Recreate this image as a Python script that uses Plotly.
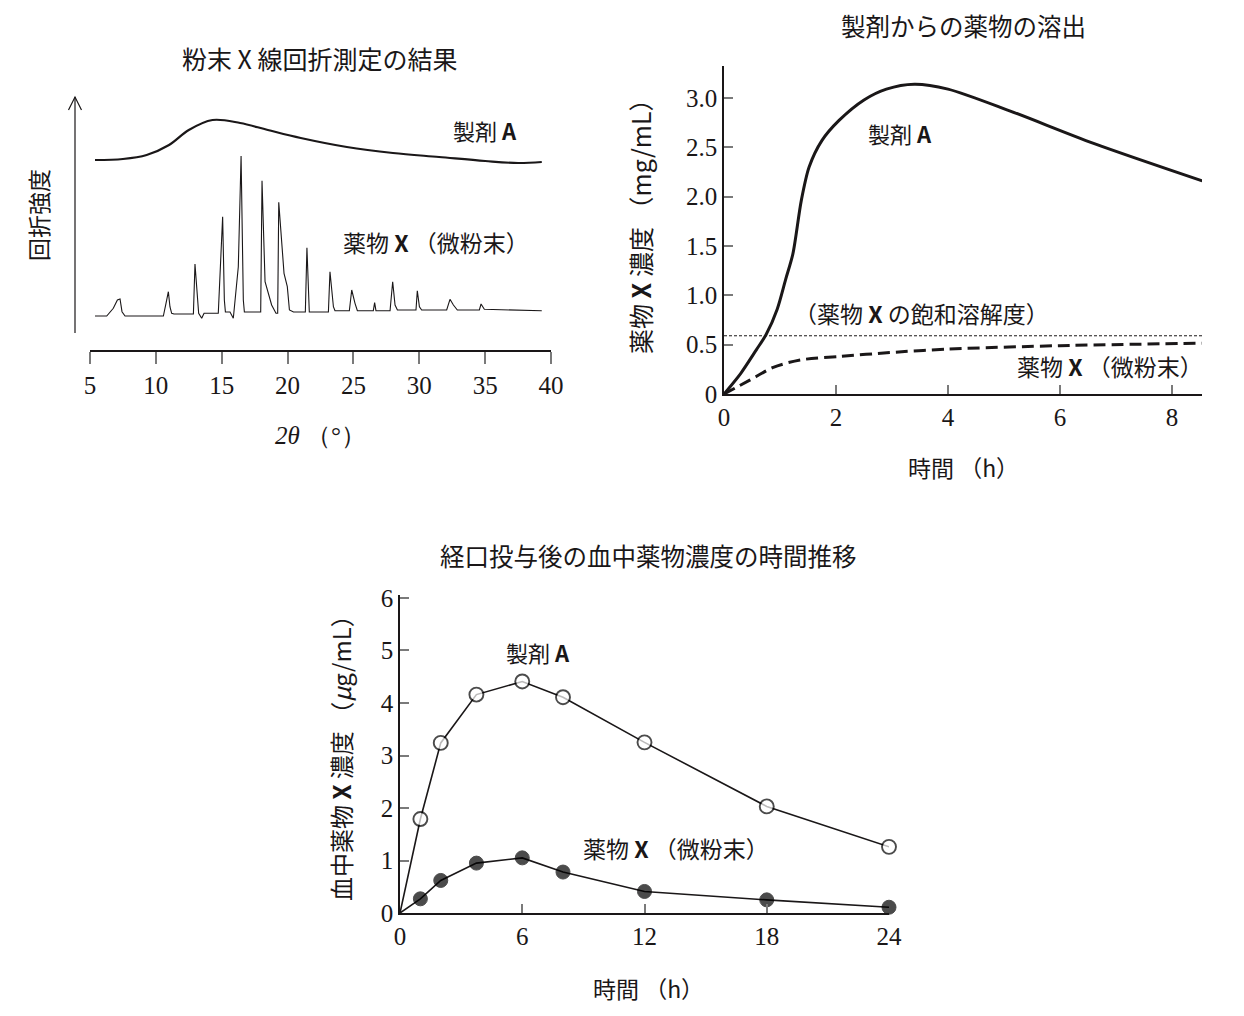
import plotly.graph_objects as go

# ---------------- data ----------------
# Panel 1: powder X-ray diffraction (2θ in degrees, relative intensity a.u.)
xrd_a_2theta = [5.38, 7.5, 9.3, 11.0, 12.5, 14.3, 16.4, 18.5, 21.0, 24.5, 28.0, 31.5, 35.0, 37.5, 39.3]
xrd_a_int = [190, 191, 195, 205, 220, 230, 227, 220, 212, 203, 197, 193, 189, 187, 188]

xrd_x_2theta = [5.38, 6.27, 6.77, 7.08, 7.28, 7.43, 7.66,
                10.57, 10.77, 10.95, 11.07, 11.2, 11.38,
                12.85, 12.97, 13.25, 13.48, 13.66,
                14.74, 15.07, 15.2, 15.28, 15.63, 15.88, 16.26, 16.47, 16.64, 16.72,
                17.96, 18.06, 18.29, 18.79, 19.12, 19.25, 19.33, 19.73, 19.98, 20.14, 20.45,
                21.35, 21.47, 21.65,
                23.1, 23.22, 23.48, 23.6,
                24.69, 24.87, 25.12, 25.3,
                26.51, 26.61, 26.71,
                27.78, 27.98, 28.16, 28.34,
                29.75, 29.85, 30.01, 30.18,
                32.08, 32.33, 32.59, 32.89,
                34.56, 34.69, 34.94,
                39.3]
xrd_x_int = [34, 34, 41.7, 50, 51, 38.3, 34,
             34, 46.7, 58.3, 43.3, 36.7, 36,
             36, 86, 36.7, 31.7, 36.7,
             36.7, 133.3, 50, 38, 38, 31.7, 83.3, 194, 50, 38,
             38, 169.3, 68.3, 45, 36.7, 36.7, 147.7, 76.7, 63.3, 40, 38,
             38, 102.3, 38,
             38, 78.3, 43.3, 39.3,
             39.3, 60, 46.7, 39.3,
             39.3, 47.3, 39.3,
             39.3, 68.3, 45, 40,
             40, 59.3, 43.3, 40,
             40, 50.7, 45, 40,
             40, 46, 40.7,
             39.3]
xrd_ticks = [5, 10, 15, 20, 25, 30, 35, 40]

# Panel 2: dissolution (h, mg/mL)
diss_a_t = [0, 0.3, 0.58, 0.75, 0.95, 1.1, 1.23, 1.38, 1.52, 1.75, 2.05, 2.5, 2.9, 3.4, 4.0, 5.1, 6.6, 8.54]
diss_a_c = [0, 0.21, 0.45, 0.6, 0.86, 1.16, 1.42, 1.96, 2.3, 2.57, 2.77, 2.98, 3.09, 3.14, 3.09, 2.87, 2.54, 2.16]
diss_x_t = [0, 0.46, 0.88, 1.36, 2.07, 2.96, 4.0, 6.0, 8.54]
diss_x_c = [0, 0.14, 0.27, 0.345, 0.38, 0.42, 0.455, 0.49, 0.515]
saturation = 0.59
diss_xticks = [0, 2, 4, 6, 8]
diss_yticks = [0, 0.5, 1.0, 1.5, 2.0, 2.5, 3.0]
diss_yticktext = ["0", "0.5", "1.0", "1.5", "2.0", "2.5", "3.0"]

# Panel 3: plasma concentration (h, μg/mL)
blood_t = [0, 1, 2, 3.75, 6, 8, 12, 18, 24]
blood_a = [0, 1.79, 3.24, 4.16, 4.41, 4.11, 3.25, 2.03, 1.26]
blood_x = [0, 0.27, 0.62, 0.95, 1.05, 0.78, 0.41, 0.25, 0.11]
blood_xticks = [0, 6, 12, 18, 24]
blood_yticks = [0, 1, 2, 3, 4, 5, 6]

# ---------------- styling helpers ----------------
PAGE_W, PAGE_H = 1244, 1016
BODY = 8  # default page margin around the plot div
W, H = PAGE_W - 2 * BODY, PAGE_H - 2 * BODY
INK = "#1a1718"
JP = "Noto Sans CJK JP"
SERIF = "Liberation Serif"


def fx(p):
    return (p - BODY) / W


def fy(p):
    return 1 - (p - BODY) / H


fig = go.Figure()

# Panel 1 traces
fig.add_trace(go.Scatter(x=xrd_a_2theta, y=xrd_a_int, mode="lines",
                         line=dict(color=INK, width=2.2, shape="spline", smoothing=1.0),
                         xaxis="x", yaxis="y", cliponaxis=False, showlegend=False))
fig.add_trace(go.Scatter(x=xrd_x_2theta, y=xrd_x_int, mode="lines",
                         line=dict(color=INK, width=1.1),
                         xaxis="x", yaxis="y", cliponaxis=False, showlegend=False))

# Panel 2 traces
fig.add_trace(go.Scatter(x=diss_a_t, y=diss_a_c, mode="lines",
                         line=dict(color=INK, width=3, shape="spline", smoothing=0.8),
                         xaxis="x2", yaxis="y2", cliponaxis=False, showlegend=False))
fig.add_trace(go.Scatter(x=diss_x_t, y=diss_x_c, mode="lines",
                         line=dict(color=INK, width=3, shape="spline", smoothing=0.8, dash="12px,6px"),
                         xaxis="x2", yaxis="y2", cliponaxis=False, showlegend=False))

# Panel 3 traces
msize = [0] + [14] * (len(blood_t) - 1)
fig.add_trace(go.Scatter(x=blood_t, y=blood_a, mode="lines+markers",
                         line=dict(color=INK, width=1.6),
                         marker=dict(size=msize, color="white", line=dict(color="black", width=1.9)),
                         xaxis="x3", yaxis="y3", cliponaxis=False, showlegend=False))
fig.add_trace(go.Scatter(x=blood_t, y=blood_x, mode="lines+markers",
                         line=dict(color=INK, width=1.6),
                         marker=dict(size=msize, color="black", line=dict(color="black", width=1)),
                         xaxis="x3", yaxis="y3", cliponaxis=False, showlegend=False))

tickfont = dict(family=SERIF, size=25, color=INK)
common = dict(showgrid=False, zeroline=False, showline=True, linecolor=INK, linewidth=1.5,
              tickcolor="#7a7a7a", tickwidth=1.5, tickfont=tickfont, fixedrange=True,
              automargin=False)

fig.update_layout(
    width=W, height=H,
    margin=dict(l=0, r=0, t=0, b=0, pad=0, autoexpand=False),
    paper_bgcolor="white", plot_bgcolor="white",
    xaxis=dict(domain=[fx(90), fx(551)], range=[5, 40], anchor="y",
               tickvals=xrd_ticks, ticks="outside", ticklen=12, **common),
    yaxis=dict(domain=[fy(350), fy(97)], range=[0, 253], anchor="x", visible=False,
               automargin=False),
    xaxis2=dict(domain=[fx(724), fx(1202)], range=[0, 8.536], anchor="y2",
                tickvals=diss_xticks, ticks="inside", ticklen=9, **common),
    yaxis2=dict(domain=[fy(394), fy(66)], range=[0, 3.324], anchor="x2",
                tickvals=diss_yticks, ticktext=diss_yticktext, ticks="inside", ticklen=9, **common),
    xaxis3=dict(domain=[fx(400), fx(889)], range=[0, 24], anchor="y3",
                tickvals=blood_xticks, ticks="inside", ticklen=9, **common),
    yaxis3=dict(domain=[fy(913), fy(595)], range=[0, 6.057], anchor="x3",
                tickvals=blood_yticks, ticks="inside", ticklen=9, **common),
)

# saturation solubility line
fig.add_shape(type="line", xref="x2 domain", yref="y2", x0=0, x1=1, y0=saturation, y1=saturation,
              line=dict(color=INK, width=1, dash="3px,2px"))

# intensity arrow for panel 1
fig.add_shape(type="line", xref="paper", yref="paper", x0=fx(75), x1=fx(75), y0=fy(333), y1=fy(97),
              line=dict(color=INK, width=1.2))
fig.add_shape(type="path", xref="paper", yref="paper",
              path=f"M {fx(68.5)},{fy(110)} L {fx(75)},{fy(97)} L {fx(81.5)},{fy(110)}",
              line=dict(color=INK, width=1.2))


def note(text, x, y, size=22, angle=0, family=JP):
    fig.add_annotation(text=text, x=fx(x), y=fy(y), xref="paper", yref="paper",
                       showarrow=False, textangle=angle, xanchor="center", yanchor="middle",
                       font=dict(family=family, size=size, color=INK))


# titles
note("粉末 X 線回折測定の結果", 320, 58, size=25)
note("製剤からの薬物の溶出", 963, 25, size=24.5)
note("経口投与後の血中薬物濃度の時間推移", 648, 555, size=24.5)

# axis titles
note("回折強度", 38, 215, size=23, angle=-90)
note("<i>2θ</i> （°）", 320, 435, size=25, family=SERIF)
note("薬物 <b>X</b> 濃度 （mg/mL）", 640, 220, size=25, angle=-90)
note("時間 （h）", 963, 467, size=23)
note("血中薬物 <b>X</b> 濃度 （<i>μ</i>g/mL）", 340, 752, size=24, angle=-90)
note("時間 （h）", 648, 988, size=23)

# series labels
note("製剤 <b>A</b>", 485, 130, size=22)
note("薬物 <b>X</b> （微粉末）", 436, 242, size=23)
note("製剤 <b>A</b>", 900, 133, size=22)
note("（薬物 <b>X</b> の飽和溶解度）", 921, 313, size=23)
note("薬物 <b>X</b> （微粉末）", 1110, 366, size=23)
note("製剤 <b>A</b>", 538, 652, size=22)
note("薬物 <b>X</b> （微粉末）", 676, 848, size=23)

fig.write_html("out.html")
